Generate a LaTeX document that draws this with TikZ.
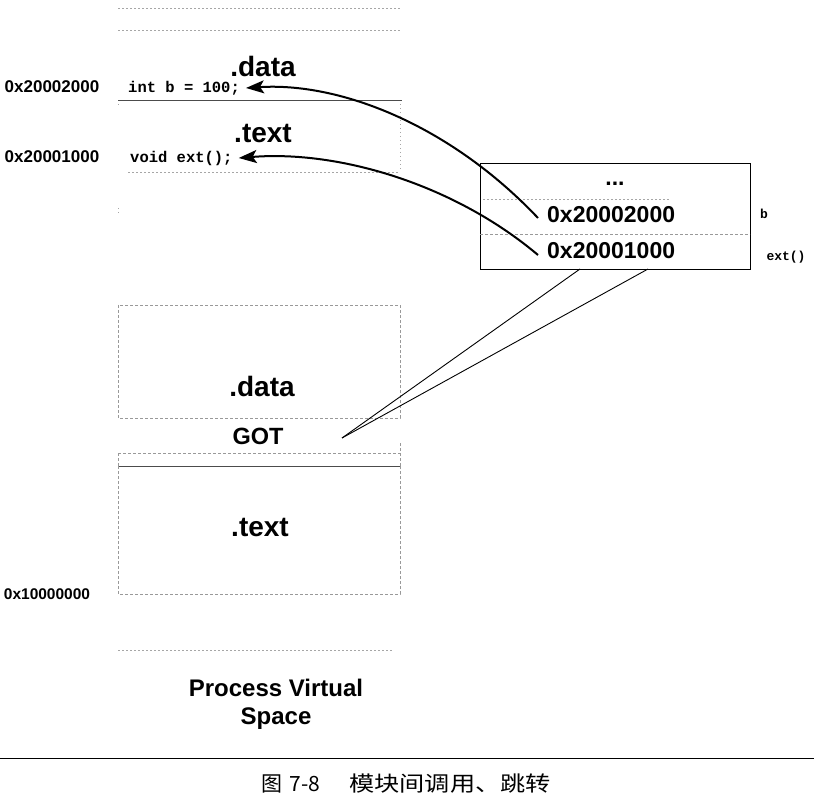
\documentclass[tikz,border=0pt]{standalone}
\usepackage{fontspec}
\setmainfont{Liberation Sans}
\newfontfamily\monob{Liberation Mono}
\newfontfamily\cjk{Noto Sans CJK SC}
\usetikzlibrary{arrows.meta}
\begin{document}
\begin{tikzpicture}[x=1pt,y=-1pt,
  lbl/.style={inner sep=0pt,font=\fontsize{17}{17}\selectfont\bfseries},
  sec/.style={inner sep=0pt,font=\fontsize{28}{28}\selectfont\bfseries},
  code/.style={inner sep=0pt,font=\fontsize{15.5}{15.5}\selectfont\monob\bfseries},
  hex/.style={inner sep=0pt,font=\fontsize{23}{23}\selectfont\bfseries},
  big/.style={inner sep=0pt,font=\fontsize{23.5}{23.5}\selectfont\bfseries},
  dots/.style={gray!70,line width=0.7pt,dash pattern=on 1.5pt off 2.5pt},
  dsh/.style={gray!80,line width=0.7pt,dash pattern=on 3pt off 2pt},
  arr/.style={line width=2pt,-{Stealth[length=18pt,width=13pt,inset=4pt]}},
  thin/.style={line width=0.9pt}]
\useasboundingbox (0,0) rectangle (814,802);
% top faint lines
\draw[dots] (118,8) -- (402,8);
\draw[dots] (118,30) -- (402,30);
% upper module region
\node[sec] (data1) at (263,66) {.data};
\node[lbl] (a1) at (52,87) {0x20002000};
\node[code,anchor=west] (intb) at (128,88) {int b = 100;};
\draw[thin,gray!60!black] (118,100) -- (402,100);
\draw[dots] (118,104) -- (118,106);
\node[sec] (text1) at (263,134) {.text};
\node[lbl] (a2) at (52,157) {0x20001000};
\node[code,anchor=west] (voidext) at (130,158) {void ext();};
\draw[dots] (128,172) -- (400,172);
\draw[dots] (400,104) -- (400,172);
\draw[dots] (118,208) -- (118,216);
% lower module .data box
\draw[dsh] (118,305) rectangle (400,418);
\node[sec] (data2) at (262,386) {.data};
\node[big] (got) at (258,436) {GOT};
\coordinate (gotpt) at (342,438);
\draw[dsh] (118,453) -- (400,453);
\draw[dsh] (118,453) -- (118,466);
\draw[dsh] (400,443) -- (400,466);
\draw[thin,gray!60!black] (118,466) -- (400,466);
% lower .text box
\draw[dsh] (118,466) -- (118,594) -- (400,594) -- (400,466);
\node[sec] (text2) at (260,528) {.text};
\node[lbl,font=\fontsize{15.5}{15.5}\selectfont\bfseries] (a3) at (47,594) {0x10000000};
\draw[dots] (118,650) -- (392,650);
\node[big,align=center,font=\fontsize{24}{24}\selectfont\bfseries] (pvs) at (276,704) {Process Virtual\\[4pt]Space};
% right GOT box
\draw[thin] (480,163) rectangle (750,269);
\node[hex] (ell) at (615,184) {...};
\draw[dots] (483,199) -- (670,199);
\node[hex,anchor=west] (h1) at (547,215) {0x20002000};
\draw[dsh] (480,234) -- (750,234);
\node[hex,anchor=west] (h2) at (547,251) {0x20001000};
\node[code,font=\fontsize{13}{13}\selectfont\monob\bfseries] (bl) at (764,214) {b};
\node[code,font=\fontsize{13}{13}\selectfont\monob\bfseries] (extl) at (786,257) {ext()};
\coordinate (g1) at (580,269);
\coordinate (g2) at (648,269);
% connectors
\draw[thin] (gotpt) -- (g1);
\draw[thin] (gotpt) -- (g2);
\draw[arr] ([xshift=-9pt,yshift=-3pt]h1.west) .. controls (450,125) and (340,82) .. ([xshift=6pt]intb.east);
\draw[arr] ([xshift=-9pt,yshift=-4pt]h2.west) .. controls (455,185) and (340,150) .. ([xshift=6pt]voidext.east);
% caption
\draw[line width=1pt] (0,758) -- (814,758);
\node[inner sep=0pt,font=\fontsize{21}{21}\selectfont\cjk] (cap1) at (291,784) {图\,\,7-8};
\node[inner sep=0pt,font=\fontsize{21}{21}\selectfont\cjk,xscale=1.2] (cap2) at (450,784) {模块间调用、跳转};
\end{tikzpicture}
\end{document}
